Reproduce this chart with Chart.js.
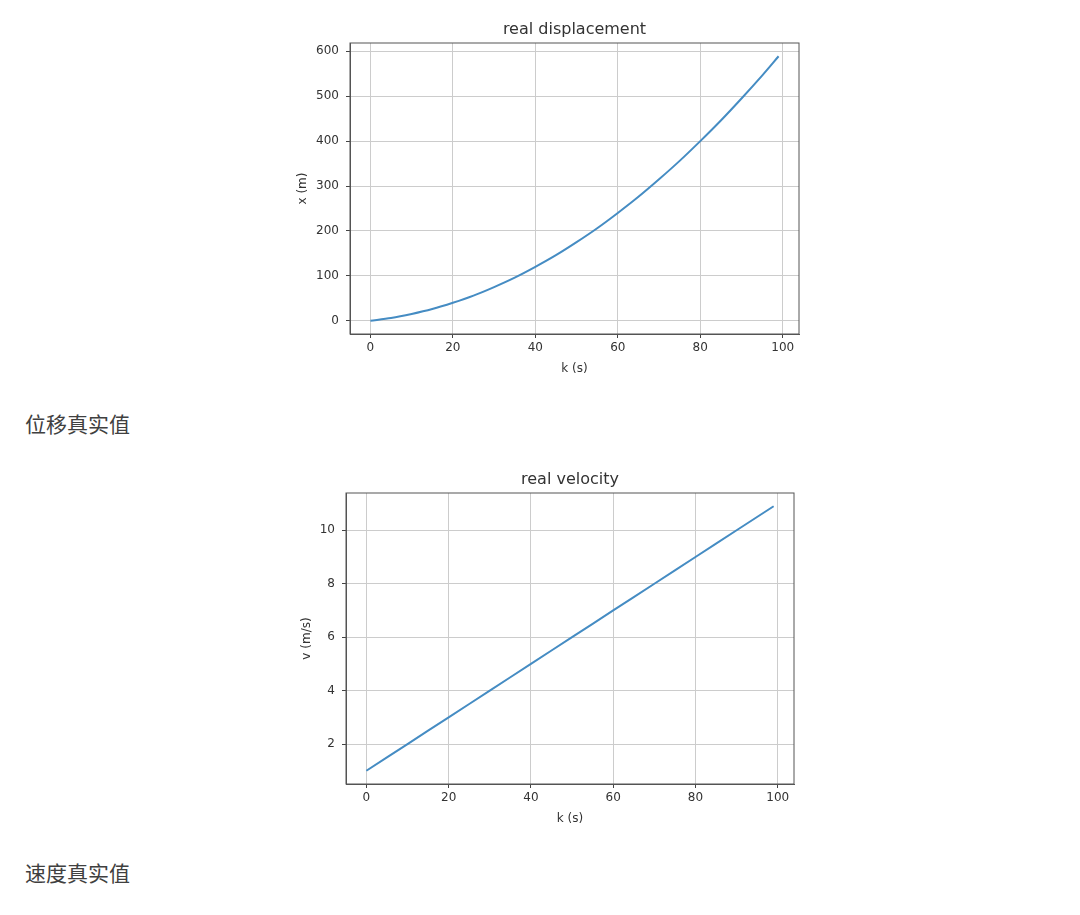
<!DOCTYPE html>
<html>
<head>
<meta charset="utf-8">
<script src="https://cdn.jsdelivr.net/npm/chart.js@4.4.0/dist/chart.umd.min.js"></script>
<style>
  html, body { margin: 0; padding: 0; background: #ffffff; }
  body { width: 1080px; height: 915px; position: relative; overflow: hidden; }
  canvas { position: absolute; }
  .cap { position: absolute; left: 25px; font-family: "Noto Sans CJK SC", sans-serif; font-size: 21px; line-height: 21px; color: #404040; }
</style>
</head>
<body>
<canvas id="c1" width="540" height="380" style="left:280px;top:10px;width:540px;height:380px"></canvas>
<div class="cap" style="top:413px">位移真实值</div>
<canvas id="c2" width="540" height="380" style="left:276px;top:460px;width:540px;height:380px"></canvas>
<div class="cap" style="top:862px">速度真实值</div>
<script>
// ---- data ----
const dispK = [0, 5, 10, 15, 20, 25, 30, 35, 40, 45, 50, 55, 60, 65, 70, 75, 80, 85, 90, 95, 99];
const dispX = [0, 6, 15, 26, 40, 56, 75, 96, 120, 146, 175, 206, 240, 276, 315, 356, 400, 446, 495, 546, 589];
const velK = [0, 10, 20, 30, 40, 50, 60, 70, 80, 90, 99];
const velV = [1, 2, 3, 4, 5, 6, 7, 8, 9, 10, 10.9];
const kTicks = [0, 20, 40, 60, 80, 100];
const dispTicks = [0, 100, 200, 300, 400, 500, 600];
const velTicks = [2, 4, 6, 8, 10];

const TEXT = '#333333';
const FONT = 'DejaVu Sans';

// full axes box + title centred over the axes (as matplotlib does)
const boxPlugin = {
  id: 'box',
  afterDraw(chart, args, opts) {
    const { ctx, chartArea: a } = chart;
    ctx.save();
    ctx.strokeStyle = '#555555';
    ctx.lineWidth = 1;
    ctx.strokeRect(a.left, a.top, a.right - a.left, a.bottom - a.top);
    ctx.fillStyle = TEXT;
    ctx.font = '16px "' + FONT + '"';
    ctx.textAlign = 'center';
    ctx.textBaseline = 'middle';
    ctx.fillText(opts.text, (a.left + a.right) / 2, 20);
    ctx.restore();
  }
};

function makeChart(id, cfg) {
  const pts = cfg.xs.map((x, i) => ({ x: x, y: cfg.ys[i] }));
  return new Chart(document.getElementById(id), {
    type: 'line',
    data: {
      datasets: [{
        data: pts,
        borderColor: '#458cc3',
        borderWidth: 2,
        pointRadius: 0,
        tension: 0.3,
        fill: false
      }]
    },
    options: {
      responsive: false,
      animation: false,
      devicePixelRatio: 1,
      layout: { padding: { left: 0, right: cfg.padRight, top: 33, bottom: 0 } },
      plugins: {
        legend: { display: false },
        tooltip: { enabled: false },
        title: { display: false },
        box: { text: cfg.title }
      },
      scales: {
        x: {
          type: 'linear',
          min: -4.95,
          max: 103.95,
          afterBuildTicks: (s) => { s.ticks = kTicks.map(v => ({ value: v })); },
          afterFit: (s) => { s.height = 56; },
          ticks: {
            color: TEXT,
            font: { family: FONT, size: 12 },
            padding: 3,
            maxRotation: 0,
            autoSkip: false,
            callback: (v) => String(v)
          },
          grid: { color: '#cccccc', lineWidth: 1, drawTicks: true, tickLength: 4, tickColor: '#444444' },
          border: { display: true, color: '#555555' },
          title: {
            display: true,
            text: 'k (s)',
            color: TEXT,
            font: { family: FONT, size: 12 },
            padding: { top: 0, bottom: 13.8 }
          }
        },
        y: {
          type: 'linear',
          min: cfg.ymin,
          max: cfg.ymax,
          afterBuildTicks: (s) => { s.ticks = cfg.yTicks.map(v => ({ value: v })); },
          afterFit: (s) => { s.width = 70; },
          ticks: {
            color: TEXT,
            font: { family: FONT, size: 12 },
            padding: 7,
            autoSkip: false,
            callback: (v) => String(v)
          },
          grid: { color: '#cccccc', lineWidth: 1, drawTicks: true, tickLength: 4, tickColor: '#444444' },
          border: { display: true, color: '#555555' },
          title: {
            display: true,
            text: cfg.ytitle,
            color: TEXT,
            font: { family: FONT, size: 12 },
            padding: { top: cfg.yTitlePad, bottom: 0 }
          }
        }
      }
    },
    plugins: [boxPlugin]
  });
}

makeChart('c1', {
  title: 'real displacement', ytitle: 'x (m)',
  xs: dispK, ys: dispX, yTicks: dispTicks,
  ymin: -29.5, ymax: 618.5, padRight: 21, yTitlePad: 15.5
});
makeChart('c2', {
  title: 'real velocity', ytitle: 'v (m/s)',
  xs: velK, ys: velV, yTicks: velTicks,
  ymin: 0.505, ymax: 11.395, padRight: 22, yTitlePad: 23.5
});
</script>
</body>
</html>
